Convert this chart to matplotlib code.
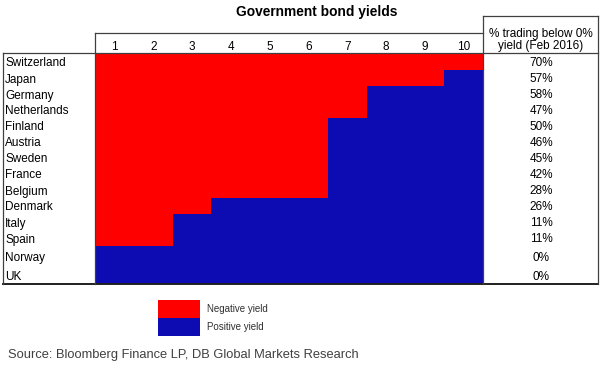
import numpy as np
import matplotlib
matplotlib.use("Agg")
import matplotlib.pyplot as plt
from matplotlib.colors import ListedColormap

plt.rcParams["font.family"] = ["Liberation Sans", "DejaVu Sans"]

countries = ["Switzerland", "Japan", "Germany", "Netherlands", "Finland",
             "Austria", "Sweden", "France", "Belgium", "Denmark",
             "Italy", "Spain", "Norway", "UK"]
# number of maturities (years 1..10) with negative yield
neg_years = [10, 9, 7, 7, 6, 6, 6, 6, 6, 3, 2, 2, 0, 0]
pct_below = ["70%", "57%", "58%", "47%", "50%", "46%", "45%",
             "42%", "28%", "26%", "11%", "11%", "0%", "0%"]
maturities = list(range(1, 11))

RED = "#ff0000"
BLUE = "#0c0cb2"
LINE = "#404040"

# layout in pixels
x0, x1 = 95, 483
row_edges = [53, 70, 86, 102, 118, 134, 150, 166, 182, 198, 214, 230, 246, 267, 284]
col_edges = np.linspace(x0, x1, len(maturities) + 1)

grid = np.array([[1 if m <= n else 0 for m in maturities] for n in neg_years])

fig = plt.figure(figsize=(6.05, 3.68), dpi=100)
ax = fig.add_axes([0, 0, 1, 1])
ax.set_xlim(0, 605)
ax.set_ylim(368, 0)
ax.axis("off")

ax.pcolormesh(col_edges, row_edges, grid, cmap=ListedColormap([BLUE, RED]),
              vmin=0, vmax=1, shading="flat")

ax.text(317, 12, "Government bond yields", ha="center", va="center",
        fontsize=9.9, fontweight="bold")

col_centers = (col_edges[:-1] + col_edges[1:]) / 2
for c, m in zip(col_centers, maturities):
    ax.text(c, 47, str(m), ha="center", va="center", fontsize=8.5)

ax.text(541, 40, "% trading below 0%\nyield (Feb 2016)", ha="center",
        va="center", fontsize=8.5, linespacing=1.05)

for i, (name, p) in enumerate(zip(countries, pct_below)):
    yc = (row_edges[i] + row_edges[i + 1]) / 2 + 1.5
    ax.text(5, yc, name, ha="left", va="center", fontsize=8.5)
    ax.text(541, yc, p, ha="center", va="center", fontsize=8.5)

# table borders
lw = 0.9
ax.plot([483, 598], [16, 16], color=LINE, lw=lw)
ax.plot([95, 483], [33, 33], color=LINE, lw=lw)
ax.plot([3, 598], [53, 53], color=LINE, lw=lw)
ax.plot([3, 598], [284, 284], color="#202020", lw=1.4)
ax.plot([3, 3], [53, 284], color=LINE, lw=lw)
ax.plot([95, 95], [33, 284], color=LINE, lw=lw)
ax.plot([483, 483], [16, 284], color=LINE, lw=lw)
ax.plot([598, 598], [16, 284], color=LINE, lw=lw)

# legend
leg_labels = ["Negative yield", "Positive yield"]
leg_edges = [300, 318, 336]
ax.pcolormesh([158, 200], leg_edges, np.array([[1], [0]]),
              cmap=ListedColormap([BLUE, RED]), vmin=0, vmax=1)
for i, lab in enumerate(leg_labels):
    ax.text(207, (leg_edges[i] + leg_edges[i + 1]) / 2, lab, ha="left",
            va="center", fontsize=7, color="#303030")

ax.text(8, 355, "Source: Bloomberg Finance LP, DB Global Markets Research",
        ha="left", va="center", fontsize=9.3, color="#404040")

fig.savefig("out.png", dpi=100)
